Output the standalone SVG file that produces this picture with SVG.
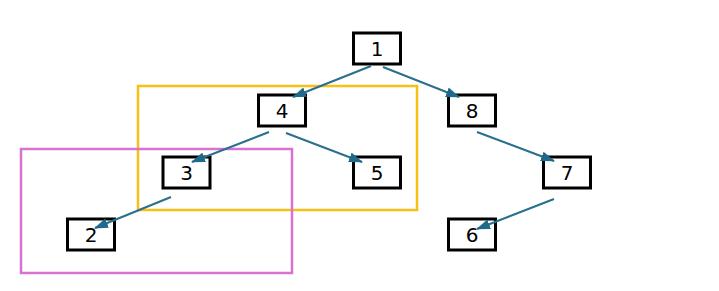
<svg xmlns="http://www.w3.org/2000/svg" width="719" height="291" viewBox="0 0 719 291">
<style>
.box{fill:#fff;stroke:#000;stroke-width:3}
.lbl{font-family:"DejaVu Sans",sans-serif;font-size:20px;fill:#000;text-anchor:middle;dominant-baseline:central}
.edge{stroke:#2a6f8e;stroke-width:2;fill:none;marker-end:url(#ah)}
.grp{fill:none;stroke-width:2.5}
</style>
<defs>
<marker id="ah" viewBox="0 0 14 10" refX="13" refY="5" markerWidth="14" markerHeight="10" orient="auto" markerUnits="userSpaceOnUse">
<path d="M0,0 L14,5 L0,10 z" fill="#1f6a8a"/>
</marker>
</defs>
<g id="groups">
<rect class="grp" x="138" y="86" width="279" height="124" stroke="#f7c012"/>
<rect class="grp" x="21" y="149" width="271" height="124" stroke="#d672d0"/>
</g>
<g id="n1"><rect class="box" x="353.5" y="33" width="47" height="31"/><text class="lbl" x="377" y="49">1</text></g>
<g id="n4"><rect class="box" x="258.5" y="95" width="47" height="31"/><text class="lbl" x="282" y="111">4</text></g>
<g id="n8"><rect class="box" x="448.5" y="95" width="47" height="31"/><text class="lbl" x="472" y="111">8</text></g>
<g id="n3"><rect class="box" x="163" y="157" width="47" height="31"/><text class="lbl" x="186.5" y="173">3</text></g>
<g id="n5"><rect class="box" x="353.5" y="157" width="47" height="31"/><text class="lbl" x="377" y="173">5</text></g>
<g id="n7"><rect class="box" x="543.5" y="157" width="47" height="31"/><text class="lbl" x="567" y="173">7</text></g>
<g id="n2"><rect class="box" x="67.5" y="219" width="47" height="31"/><text class="lbl" x="91" y="235">2</text></g>
<g id="n6"><rect class="box" x="448.5" y="219" width="47" height="31"/><text class="lbl" x="472" y="235">6</text></g>
<g id="connectors">
<line class="edge" x1="371" y1="66" x2="293" y2="97"/>
<line class="edge" x1="383" y1="67" x2="459" y2="97"/>
<line class="edge" x1="269" y1="132" x2="192" y2="162"/>
<line class="edge" x1="286" y1="133" x2="362" y2="162"/>
<line class="edge" x1="171" y1="197" x2="95" y2="228"/>
<line class="edge" x1="477" y1="132" x2="554" y2="161"/>
<line class="edge" x1="554" y1="199" x2="477" y2="229"/>
</g>
</svg>
